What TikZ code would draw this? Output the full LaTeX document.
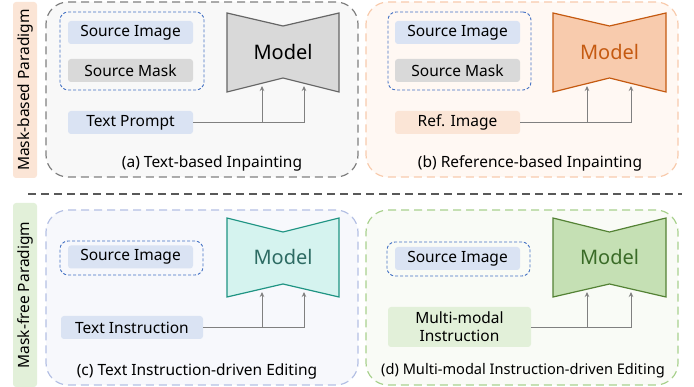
\documentclass[tikz,border=0pt]{standalone}
\usepackage{fontspec}
\setmainfont{Noto Sans}
\usetikzlibrary{arrows.meta}
\definecolor{pAfill}{HTML}{F8F8F8}\definecolor{pAdraw}{HTML}{7F7F7F}
\definecolor{pBfill}{HTML}{FFF8F3}\definecolor{pBdraw}{HTML}{F8CBAD}
\definecolor{pCfill}{HTML}{F7F8FC}\definecolor{pCdraw}{HTML}{B4C0E4}
\definecolor{pDfill}{HTML}{F9FBF6}\definecolor{pDdraw}{HTML}{A9D18E}
\definecolor{blueBox}{HTML}{DAE3F3}\definecolor{grayBox}{HTML}{D9D9D9}
\definecolor{orangeBox}{HTML}{FBE5D6}\definecolor{greenBox}{HTML}{E2F0D9}
\definecolor{dashBlue}{HTML}{4472C4}
\definecolor{mAfill}{HTML}{D9D9D9}\definecolor{mAdraw}{HTML}{666666}
\definecolor{mBfill}{HTML}{F8CBAD}\definecolor{mBdraw}{HTML}{C55A11}
\definecolor{mCfill}{HTML}{D5F3EF}\definecolor{mCdraw}{HTML}{1F9483}\definecolor{mCtext}{HTML}{2D6B63}
\definecolor{mDfill}{HTML}{C5E0B4}\definecolor{mDdraw}{HTML}{548235}\definecolor{mDtext}{HTML}{3A6B27}
\definecolor{arrowGray}{HTML}{808080}
\begin{document}
\begin{tikzpicture}[x=1pt,y=-1pt,
  every node/.style={font=\fontsize{15.5}{18}\selectfont, inner sep=0pt},
  panel/.style={rounded corners=22pt, line width=1.2pt, dash pattern=on 8pt off 5pt, minimum width=312pt},
  grp/.style={draw=dashBlue, line width=0.9pt, dash pattern=on 3pt off 2pt, rounded corners=8pt},
  bx/.style={rounded corners=3pt, minimum width=125pt, minimum height=23pt},
  model/.style={line width=1.2pt, line join=miter},
  modeltext/.style={font=\fontsize{20}{24}\selectfont},
  arr/.style={draw=arrowGray, line width=0.9pt, -{Stealth[length=5pt,width=4.5pt]}},
  side/.style={rotate=90, rounded corners=3pt, minimum height=24pt}
]
\useasboundingbox (0,0) rectangle (694,387);
% side labels
\node[side, fill=orangeBox, minimum width=176pt] (lblA) at (25,90) {Mask-based Paradigm};
\node[side, fill=greenBox, minimum width=184pt] (lblB) at (25,295) {Mask-free Paradigm};
% separator
\coordinate (sepL) at (28,194);
\coordinate (sepR) at (682,194);
\draw[draw=black!65, line width=2pt, dash pattern=on 8pt off 5pt] (sepL) -- (sepR);

% ===== panel (a)
\node[panel, draw=pAdraw, fill=pAfill, minimum height=175pt] (pa) at (202,89.5) {};
\node[grp, minimum width=144pt, minimum height=78pt] (a-grp) at (132,51) {};
\node[bx, fill=blueBox] (a-src) at (130.5,32.5) {Source Image};
\node[bx, fill=grayBox] (a-mask) at (130.5,70.5) {Source Mask};
\node[bx, fill=blueBox] (a-prm) at (130.5,122.5) {Text Prompt};
\draw[model, draw=mAdraw, fill=mAfill] (227,13) -- (283,26) -- (339,13) -- (339,92) -- (283,78) -- (227,92) -- cycle;
\node[modeltext] (a-model) at (283,52) {Model};
\coordinate (a-in1) at (262,86);
\coordinate (a-in2) at (304,86);
\draw[arr] (a-prm.east) -- (a-prm.east -| a-in2) -- (a-in2);
\draw[arr] (a-prm.east -| a-in1) -- (a-in1);
\node (a-cap) at (212,163) {(a) Text-based Inpainting};

% ===== panel (b)
\node[panel, draw=pBdraw, fill=pBfill, minimum height=175pt] (pb) at (522,89.5) {};
\node[grp, minimum width=143pt, minimum height=78pt] (b-grp) at (459.5,51) {};
\node[bx, fill=blueBox] (b-src) at (457.5,32.5) {Source Image};
\node[bx, fill=grayBox] (b-mask) at (457.5,70.5) {Source Mask};
\node[bx, fill=orangeBox] (b-ref) at (457.5,122.5) {Ref. Image};
\draw[model, draw=mBdraw, fill=mBfill] (553,13) -- (609.5,26) -- (666,13) -- (666,92) -- (609.5,78) -- (553,92) -- cycle;
\node[modeltext, text=mBdraw] (b-model) at (609.5,52) {Model};
\coordinate (b-in1) at (587,86);
\coordinate (b-in2) at (631,86);
\draw[arr] (b-ref.east) -- (b-ref.east -| b-in2) -- (b-in2);
\draw[arr] (b-ref.east -| b-in1) -- (b-in1);
\node (b-cap) at (530,163) {(b) Reference-based Inpainting};

% ===== panel (c)
\node[panel, draw=pCdraw, fill=pCfill, minimum height=175pt] (pc) at (202,297.5) {};
\node[grp, minimum width=143pt, minimum height=34pt] (c-grp) at (131.5,258) {};
\node[bx, fill=blueBox] (c-src) at (130.5,257) {Source Image};
\node[bx, fill=blueBox, minimum width=142pt] (c-ins) at (132,327.5) {Text Instruction};
\draw[model, draw=mCdraw, fill=mCfill] (227,218) -- (283,232) -- (339,218) -- (339,297) -- (283,284) -- (227,297) -- cycle;
\node[modeltext, text=mCtext] (c-model) at (283,257) {Model};
\coordinate (c-in1) at (262,292);
\coordinate (c-in2) at (304,292);
\draw[arr] (c-ins.east) -- (c-ins.east -| c-in2) -- (c-in2);
\draw[arr] (c-ins.east -| c-in1) -- (c-in1);
\node (c-cap) at (197,371) {(c) Text Instruction-driven Editing};

% ===== panel (d)
\node[panel, draw=pDdraw, fill=pDfill, minimum height=175pt] (pd) at (522,297.5) {};
\node[grp, minimum width=143pt, minimum height=34pt] (d-grp) at (458.5,259) {};
\node[bx, fill=blueBox] (d-src) at (457.5,258.5) {Source Image};
\node[bx, fill=greenBox, minimum width=143pt, minimum height=40pt, align=center, font=\fontsize{15.5}{18}\selectfont] (d-ins) at (459.5,327) {Multi-modal\\Instruction};
\draw[model, draw=mDdraw, fill=mDfill] (553,218) -- (609.5,232) -- (666,218) -- (666,297) -- (609.5,284) -- (553,297) -- cycle;
\node[modeltext, text=mDtext] (d-model) at (609.5,257) {Model};
\coordinate (d-in1) at (587,292);
\coordinate (d-in2) at (631,292);
\draw[arr] (d-ins.east) -- (d-ins.east -| d-in2) -- (d-in2);
\draw[arr] (d-ins.east -| d-in1) -- (d-in1);
\node[font=\fontsize{14.6}{17}\selectfont] (d-cap) at (523,371) {(d) Multi-modal Instruction-driven Editing};
\end{tikzpicture}
\end{document}
